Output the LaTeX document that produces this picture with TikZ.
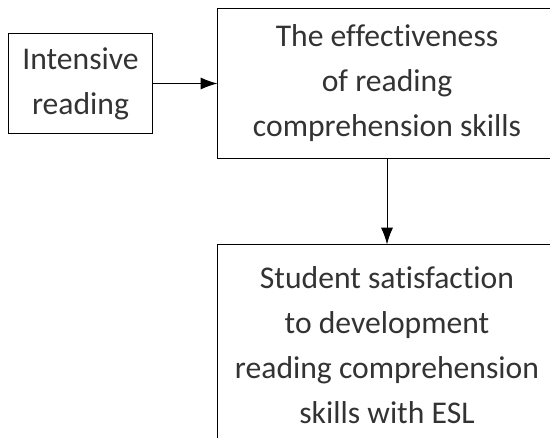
\documentclass[tikz,border=0pt]{standalone}
\usepackage{fontspec}
\setmainfont{Carlito}[Ligatures=NoCommon]
\usetikzlibrary{arrows.meta,positioning}

\begin{document}
\begin{tikzpicture}[x=0.025cm,y=-0.025cm,
  box/.style={draw,line width=0.7pt,align=center,inner sep=0pt,
    font=\fontsize{22.5}{32}\selectfont,text=black!80},
  link/.style={-{Latex[length=4.2mm,width=3mm]},line width=0.7pt}]
  \useasboundingbox (0,0) rectangle (550,438);
  \clip (0,0) rectangle (550,438);
  % Input box
  \node[box,minimum width=3.575cm,minimum height=2.475cm] (input) at (80.5,83.5) {Intensive\\reading};
  % Effectiveness box
  \node[box,minimum width=8.45cm,minimum height=3.725cm] (effect) at (387,83.5)
    {The effectiveness\\of reading\\comprehension skills};
  % Satisfaction box
  \node[box,minimum width=8.45cm,minimum height=5cm] (satis) at (387,345)
    {Student satisfaction\\to development\\reading comprehension\\skills with ESL};
  % Connections
  \draw[link] (input) -- (effect);
  \draw[link] (effect) -- (satis);
\end{tikzpicture}
\end{document}
